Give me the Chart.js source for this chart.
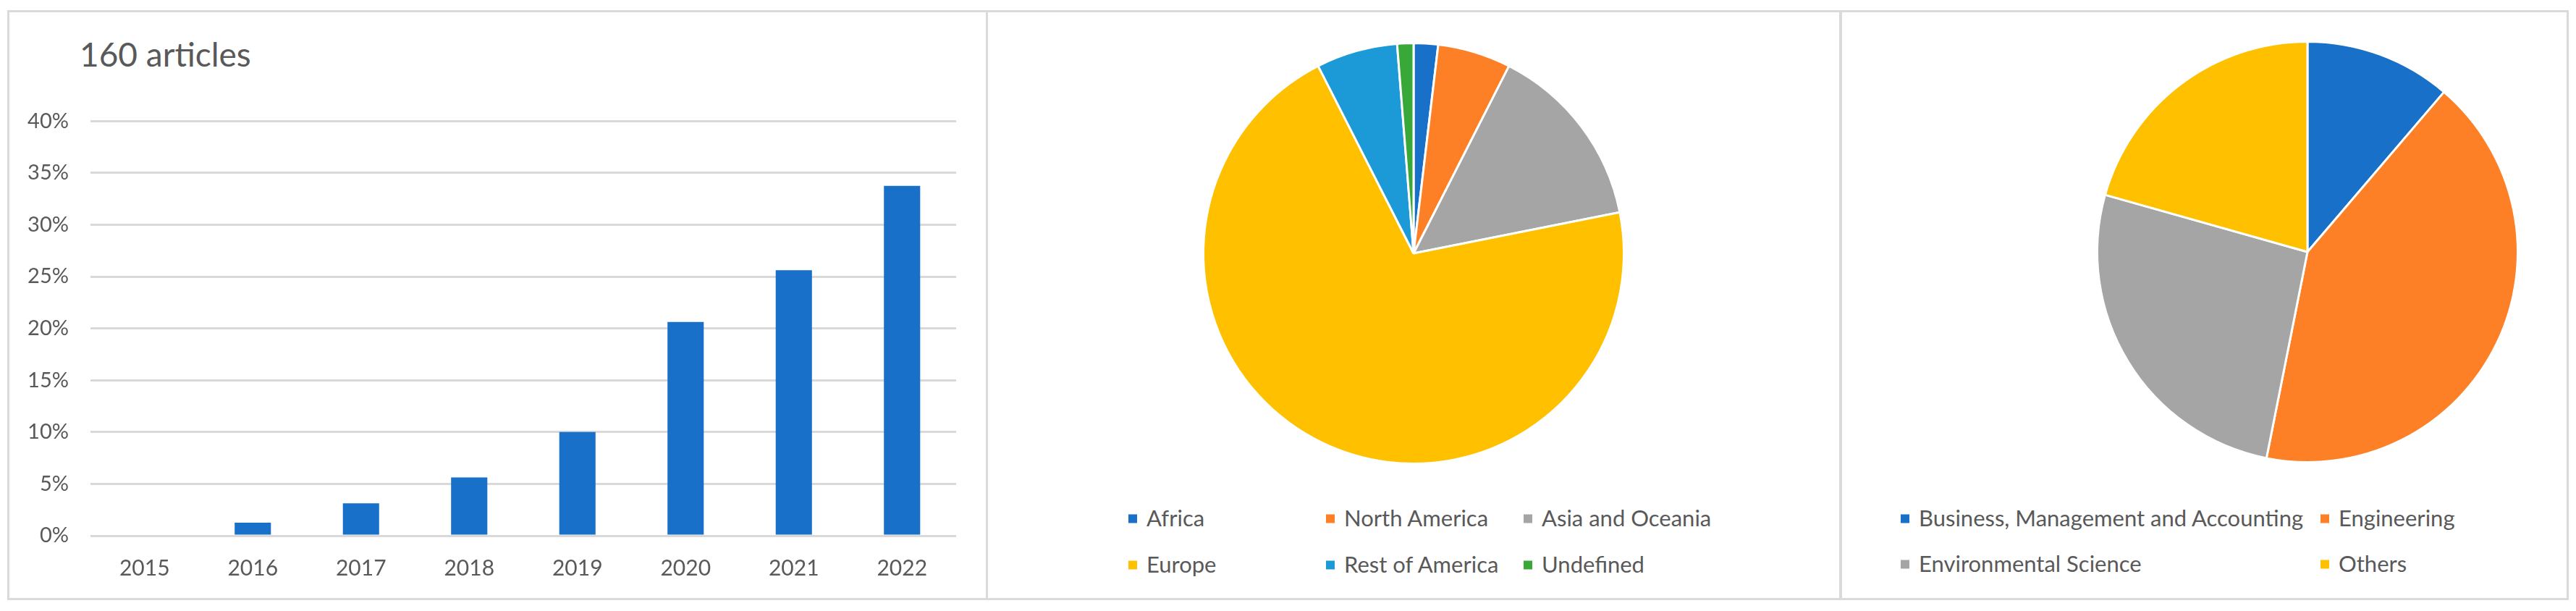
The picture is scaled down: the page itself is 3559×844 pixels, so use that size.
<!DOCTYPE html>
<html>
<head>
<meta charset="utf-8">
<script src="https://cdn.jsdelivr.net/npm/chart.js@4.4.1/dist/chart.umd.min.js"></script>
<style>
  body { margin: 0; background: #fff; font-family: Lato, "Open Sans", sans-serif; color: #595959; }
  #page { position: relative; width: 3559px; height: 844px; overflow: hidden; background: #fff; }
  .panel { position: absolute; top: 14px; height: 815px; border: 3px solid #dadada; box-sizing: border-box; }
  .box { position: absolute; }
  #barTitle { position: absolute; left: 110px; top: 52px; font-size: 46px; line-height: 1; color: #595959; white-space: nowrap; }
  .item { position: absolute; white-space: nowrap; font-size: 31px; line-height: 1; color: #595959; transform: translateY(-50%); }
  .item .sq { display: inline-block; width: 12px; height: 12px; margin-right: 13px; vertical-align: middle; position: relative; top: -2px; }
</style>
</head>
<body>
<div id="page">
  <div class="panel" style="left:10px; width:1355px;"></div>
  <div class="panel" style="left:1362px; width:1183px;"></div>
  <div class="panel" style="left:2541px; width:1008px;"></div>

  <div id="barTitle">160 articles</div>
  <div class="box" style="left:20px; top:120px;"><canvas id="barCanvas" width="1330" height="700"></canvas></div>
  <div class="box" style="left:1653px; top:50px;"><canvas id="regionCanvas" width="600" height="600"></canvas></div>
  <div class="box" style="left:2888px; top:48px;"><canvas id="areaCanvas" width="600" height="600"></canvas></div>
  <div id="regionLegend"></div>
  <div id="areaLegend"></div>
</div>

<script>
// Datos del gráfico de barras (% de artículos por año)
const years = ['2015', '2016', '2017', '2018', '2019', '2020', '2021', '2022']
const articleShare = [0, 1.25, 3.125, 5.625, 10, 20.625, 25.625, 33.75]
const yMax = 40
const yStep = 5

// Datos del primer pie (regiones)
const regions = ['Africa', 'North America', 'Asia and Oceania', 'Europe', 'Rest of America', 'Undefined']
const regionCounts = [3, 9, 23, 113, 10, 2]
const regionColors = ['#1870c8', '#fd7f26', '#a5a5a5', '#ffc000', '#1b9ad7', '#38a838']

// Datos del segundo pie (áreas temáticas)
const areas = ['Business, Management and Accounting', 'Engineering', 'Environmental Science', 'Others']
const areaCounts = [18, 67, 42, 33]
const areaColors = ['#1870c8', '#fd7f26', '#a5a5a5', '#ffc000']

const textColor = '#595959'
const gridColor = '#d9d9d9'
Chart.defaults.font.family = 'Lato, "Open Sans", sans-serif'
Chart.defaults.color = textColor

//Generar gráfico de barras
const generateBarChart = () => {
  let barCanvas = document.getElementById('barCanvas')
  new Chart(barCanvas, {
    type: 'bar',
    data: {
      labels: years,
      datasets: [{
        data: articleShare,
        backgroundColor: '#1870c8',
        barPercentage: 0.335,
        categoryPercentage: 1
      }]
    },
    options: {
      responsive: false,
      animation: false,
      layout: { padding: { top: 33, right: 29, left: 0, bottom: 0 } },
      plugins: { legend: { display: false }, tooltip: { enabled: false } },
      scales: {
        x: {
          grid: { display: false, drawTicks: false },
          border: { display: false },
          ticks: { font: { size: 30 }, color: textColor, padding: 27 },
          afterFit: (scale) => { scale.height = 80 }
        },
        y: {
          min: 0,
          max: yMax,
          grid: { color: gridColor, lineWidth: 3, drawTicks: false },
          border: { display: false },
          ticks: {
            stepSize: yStep,
            font: { size: 29 },
            color: textColor,
            padding: 30,
            callback: (v) => v + '%'
          },
          afterFit: (scale) => { scale.width = 105 }
        }
      }
    }
  })
}

//Generar gráficos de pastel
const generatePieChart = (id, labels, colors, data) => {
  let pieCanvas = document.getElementById(id)
  new Chart(pieCanvas, {
    type: 'pie',
    data: {
      labels: labels,
      datasets: [{
        data: data,
        backgroundColor: colors,
        borderColor: '#ffffff',
        borderWidth: 3
      }]
    },
    options: {
      responsive: false,
      animation: false,
      layout: { padding: 8 },
      plugins: { legend: { display: false }, tooltip: { enabled: false } }
    }
  })
}

//Leyenda tipo Excel, alineada en columnas
const buildLegend = (id, labels, colors, colX, rowY) => {
  let legend = document.getElementById(id)
  labels.forEach((label, i) => {
    let col = i % colX.length
    let row = Math.floor(i / colX.length)
    let item = document.createElement('div')
    item.className = 'item'
    item.style.left = (colX[col] - 6) + 'px'
    item.style.top = rowY[row] + 'px'
    let sq = document.createElement('span')
    sq.className = 'sq'
    sq.style.background = colors[i]
    item.appendChild(sq)
    item.appendChild(document.createTextNode(label))
    legend.appendChild(item)
  })
}

generateBarChart()
generatePieChart('regionCanvas', regions, regionColors, regionCounts)
generatePieChart('areaCanvas', areas, areaColors, areaCounts)
buildLegend('regionLegend', regions, regionColors, [1565, 1838, 2111], [715, 779])
buildLegend('areaLegend', areas, areaColors, [2632, 3212], [715, 778])
</script>
</body>
</html>
